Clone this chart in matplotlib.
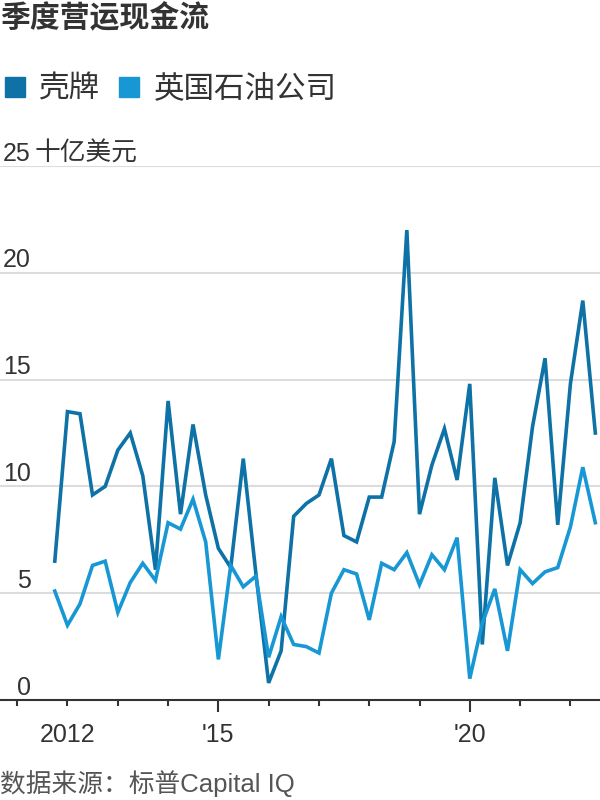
import matplotlib
matplotlib.use("Agg")
import matplotlib.pyplot as plt
import matplotlib.dates as mdates
from matplotlib.lines import Line2D
import pandas as pd

# Quartale (Quartalsbeginn), Werte in Mrd. USD
quartale = pd.period_range("2011Q4", "2022Q3", freq="Q").to_timestamp()
shell = [6.5, 13.5, 13.4, 9.6, 10.0, 11.7, 12.5, 10.5, 6.1, 14.0,
         8.7, 12.9, 9.6, 7.1, 6.2, 11.3, 5.9, 0.8, 2.3, 8.6,
         9.2, 9.6, 11.3, 7.7, 7.4, 9.5, 9.5, 12.1, 22.0, 8.7,
         11.0, 12.7, 10.3, 14.8, 2.6, 10.4, 6.3, 8.3, 12.8, 16.0,
         8.2, 14.8, 18.7, 12.5]
bp = [5.1, 3.5, 4.5, 6.3, 6.5, 4.1, 5.5, 6.4, 5.6, 8.3,
      8.0, 9.4, 7.4, 1.9, 6.3, 5.3, 5.8, 2.0, 3.9, 2.6,
      2.5, 2.2, 5.0, 6.1, 5.9, 3.75, 6.4, 6.1, 6.9, 5.4,
      6.8, 6.1, 7.6, 1.0, 3.6, 5.2, 2.3, 6.1, 5.45, 6.0,
      6.2, 8.1, 10.9, 8.3]
serien_namen = ["壳牌", "英国石油公司"]
y_ticks = [0, 5, 10, 15, 20, 25]
x_labels = {2012: "2012", 2015: "'15", 2020: "'20"}

farbe_shell = "#0e72a6"
farbe_bp = "#1797d4"
text_farbe = "#333333"

plt.rcParams['font.family'] = ['Liberation Sans', 'Noto Sans CJK SC', 'DejaVu Sans']

fig = plt.figure(figsize=(6, 8), dpi=100)
ax = fig.add_axes([0, 0.125, 1, 0.6675])

ax.plot(quartale, shell, color=farbe_shell, lw=2.6, solid_joinstyle="miter", zorder=3)
ax.plot(quartale, bp, color=farbe_bp, lw=2.6, solid_joinstyle="miter", zorder=3)

ax.set_ylim(0, 25)
ax.set_xlim(pd.Timestamp("2010-08-29"), pd.Timestamp("2022-08-04"))

for s in ["left", "right", "top"]:
    ax.spines[s].set_visible(False)
ax.spines["bottom"].set_color(text_farbe)
ax.spines["bottom"].set_linewidth(1.5)

ax.set_yticks(y_ticks[1:])
ax.yaxis.grid(True, color="#dcdcdc", lw=1.5)
ax.tick_params(axis="y", left=False, labelleft=False)
ax.set_axisbelow(True)

ytrans = ax.get_yaxis_transform()
for v in y_ticks:
    ax.text(31 / 600, v + 0.02, str(v), transform=ytrans, ha="right", va="bottom",
            fontsize=18, color=text_farbe, clip_on=False)
ax.text(35 / 600, 25 + 0.02, "十亿美元", transform=ytrans, ha="left", va="bottom",
        fontsize=18.5, color=text_farbe, clip_on=False)

ax.xaxis.set_minor_locator(mdates.YearLocator(1))
major = [pd.Timestamp(f"{j}-01-01") for j in x_labels]
ax.set_xticks(major)
ax.set_xticklabels(list(x_labels.values()))
ax.tick_params(axis="x", which="major", length=8.5, width=1.5, color=text_farbe,
               labelsize=18, labelcolor=text_farbe, pad=8)
ax.tick_params(axis="x", which="minor", length=4.3, width=1.5, color=text_farbe)
ax.xaxis.get_major_ticks()[0].tick1line.set_markersize(4.3)

fig.text(0.0, 1 - 18 / 800, "季度营运现金流", fontsize=21.5, fontweight="bold",
         color=text_farbe, ha="left", va="center")

handles = [Line2D([], [], marker="s", ls="", color=farbe_shell, markersize=14),
           Line2D([], [], marker="s", ls="", color=farbe_bp, markersize=14)]
fig.legend(handles, serien_namen, loc="center left", bbox_to_anchor=(-0.042, 1 - 90 / 800),
           ncol=2, frameon=False, fontsize=22, handlelength=0.8, handletextpad=0.4,
           columnspacing=0.55, labelcolor=text_farbe)

fig.text(0.0, 1 - 784 / 800, "数据来源：标普Capital IQ", fontsize=18.5, color="#555555",
         ha="left", va="center")

fig.savefig("out.png", dpi=100)
